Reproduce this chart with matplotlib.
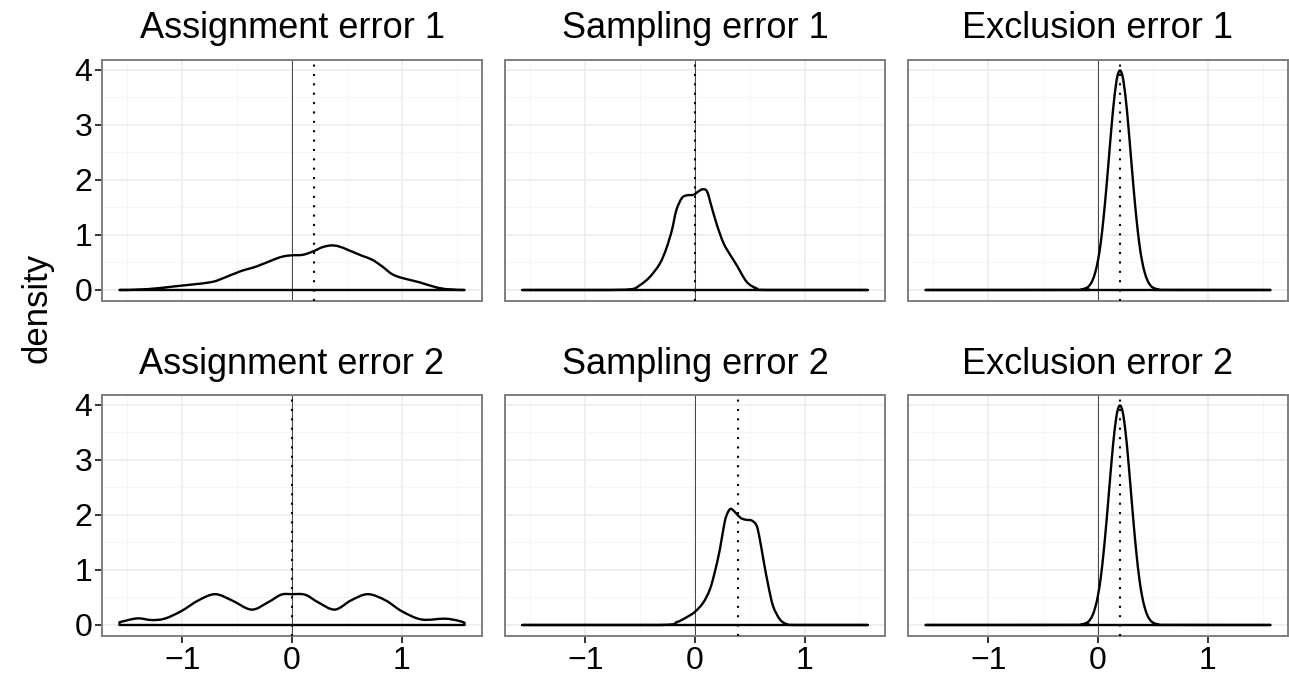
import matplotlib.pyplot as plt
import numpy as np
from matplotlib.path import Path
from matplotlib.patches import PathPatch

plt.rcParams['font.family'] = ['Liberation Sans', 'DejaVu Sans']

titles = ['Assignment error 1', 'Sampling error 1', 'Exclusion error 1',
          'Assignment error 2', 'Sampling error 2', 'Exclusion error 2']

# density curves (x, density)
assign1_x = [-1.571, -1.35, -1.05, -0.745, -0.62, -0.47, -0.32, -0.17, -0.08, 0.0, 0.1,
             0.19, 0.28, 0.36, 0.43, 0.52, 0.64, 0.73, 0.82, 0.91, 1.0, 1.16, 1.31, 1.43, 1.571]
assign1_y = [0.0, 0.01, 0.07, 0.14, 0.22, 0.34, 0.43, 0.55, 0.61, 0.63, 0.64,
             0.70, 0.78, 0.81, 0.79, 0.72, 0.62, 0.55, 0.43, 0.29, 0.22, 0.14, 0.05, 0.01, 0.0]

samp1_x = [-1.571, -0.86, -0.59, -0.50, -0.41, -0.32, -0.26, -0.21, -0.17, -0.12, -0.075,
           -0.015, 0.03, 0.07, 0.11, 0.15, 0.20, 0.26, 0.32, 0.38, 0.47, 0.56, 0.65, 1.571]
samp1_y = [0.0, 0.0, 0.01, 0.09, 0.24, 0.48, 0.76, 1.09, 1.45, 1.67, 1.72,
           1.73, 1.79, 1.83, 1.79, 1.52, 1.18, 0.85, 0.64, 0.45, 0.15, 0.03, 0.0, 0.0]

excl_x = [-1.571, -0.2, -0.15, -0.1, -0.075, -0.05, -0.025, 0.0, 0.025, 0.05, 0.075, 0.1,
          0.125, 0.15, 0.175, 0.2, 0.225, 0.25, 0.275, 0.3, 0.325, 0.35, 0.375, 0.4,
          0.425, 0.45, 0.475, 0.5, 0.55, 0.6, 1.571]
excl_y = [0.0, 0.001, 0.009, 0.044, 0.09, 0.175, 0.32, 0.54, 0.86, 1.30, 1.83, 2.42,
          3.01, 3.52, 3.87, 3.99, 3.87, 3.52, 3.01, 2.42, 1.83, 1.30, 0.86, 0.54,
          0.32, 0.175, 0.09, 0.044, 0.009, 0.001, 0.0]

assign2_x = [-1.571, -1.41, -1.28, -1.16, -1.01, -0.85, -0.70, -0.55, -0.37, -0.22,
             -0.10, 0.0, 0.12, 0.24, 0.39, 0.54, 0.69, 0.85, 1.0, 1.18, 1.39, 1.51, 1.571]
assign2_y = [0.05, 0.12, 0.09, 0.115, 0.25, 0.45, 0.56, 0.45, 0.28, 0.41,
             0.55, 0.56, 0.55, 0.41, 0.28, 0.45, 0.56, 0.45, 0.25, 0.10, 0.115, 0.08, 0.04]

samp2_x = [-1.571, -0.32, -0.17, -0.077, 0.0, 0.076, 0.136, 0.18, 0.227, 0.27, 0.30, 0.33,
           0.379, 0.42, 0.47, 0.515, 0.56, 0.59, 0.627, 0.667, 0.71, 0.77, 0.83, 0.92, 1.571]
samp2_y = [0.0, 0.0, 0.05, 0.14, 0.24, 0.41, 0.65, 0.96, 1.38, 1.87, 2.05, 2.11,
           2.02, 1.94, 1.91, 1.90, 1.81, 1.56, 1.14, 0.72, 0.35, 0.11, 0.02, 0.0, 0.0]

curves = [(assign1_x, assign1_y), (samp1_x, samp1_y), (excl_x, excl_y),
          (assign2_x, assign2_y), (samp2_x, samp2_y), (excl_x, excl_y)]
estimates = [0.2, 0.0, 0.2, 0.0, 0.39, 0.2]


def density_patch(xs, ys):
    # smooth outline (catmull-rom drawn as bezier), closed down to the baseline
    p = np.column_stack([xs, ys]).astype(float)
    verts = [(p[0, 0], 0.0), tuple(p[0])]
    codes = [Path.MOVETO, Path.LINETO]
    n = len(p)
    for i in range(n - 1):
        a = p[max(i - 1, 0)]
        b, c = p[i], p[i + 1]
        d = p[min(i + 2, n - 1)]
        c1 = b + (c - a) / 6
        c2 = c - (d - b) / 6
        c1[1] = max(c1[1], 0)
        c2[1] = max(c2[1], 0)
        verts += [tuple(c1), tuple(c2), tuple(c)]
        codes += [Path.CURVE4] * 3
    verts += [(p[-1, 0], 0.0), (p[0, 0], 0.0)]
    codes += [Path.LINETO, Path.CLOSEPOLY]
    return PathPatch(Path(verts, codes), facecolor='none', edgecolor='black',
                     lw=1.7, zorder=3, joinstyle='round')


W, H = 1289, 685
fig = plt.figure(figsize=(W / 100, H / 100), dpi=100)

col_left = [102, 505, 908]
col_w = 380
row_top = [60, 395]
row_h = 241

xlim = (-1.73, 1.73)
ylim = (-0.2, 4.18)

for i, (cx, cy) in enumerate(curves):
    r, c = divmod(i, 3)
    ax = fig.add_axes([col_left[c] / W, 1 - (row_top[r] + row_h) / H, col_w / W, row_h / H])
    ax.set_xlim(*xlim)
    ax.set_ylim(*ylim)
    ax.set_xticks([-1, 0, 1])
    ax.set_xticks([-1.5, -0.5, 0.5, 1.5], minor=True)
    ax.set_yticks([0, 1, 2, 3, 4])
    ax.set_yticks([0.5, 1.5, 2.5, 3.5], minor=True)
    ax.grid(True, which='major', color='#ebebeb', lw=1.1)
    ax.grid(True, which='minor', color='#f5f5f5', lw=0.6)
    ax.set_axisbelow(True)
    for s in ax.spines.values():
        s.set_color('#7f7f7f')
        s.set_linewidth(1.4)
    ax.tick_params(which='minor', length=0)
    ax.tick_params(which='major', length=5, width=1.4, color='#333333',
                   labelsize=23, pad=2, labelcolor='black')
    if r == 0:
        ax.tick_params(axis='x', which='major', length=0, labelbottom=False)
    else:
        ax.set_xticklabels(['\u22121', '0', '1'])
    if c != 0:
        ax.tick_params(axis='y', which='major', length=0, labelleft=False)

    ax.axvline(0, color='#444444', lw=0.7, zorder=2)
    ax.add_patch(density_patch(cx, cy))
    ax.axvline(estimates[i], color='black', lw=1.5, linestyle=(0, (1, 3.5)), zorder=4)

    fig.text((col_left[c] + col_w / 2) / W, 1 - (row_top[r] - 31) / H, titles[i],
             ha='center', va='center', fontsize=26)

fig.text(37 / W, 1 - 308 / H, 'density', rotation=90, ha='center', va='center', fontsize=25)

fig.savefig('out.png', dpi=100)
